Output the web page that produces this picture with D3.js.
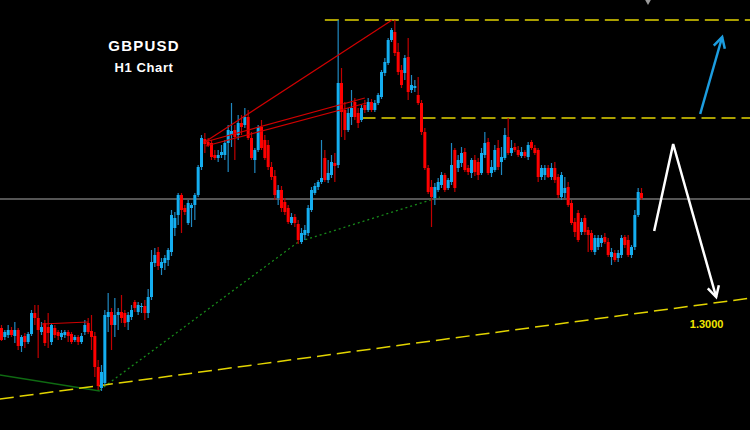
<!DOCTYPE html>
<html><head><meta charset="utf-8">
<script src="https://cdn.jsdelivr.net/npm/d3@7"></script>
<style>html,body{margin:0;padding:0;background:#000;}svg{display:block;}</style>
</head><body>
<svg id="chart" width="750" height="430"></svg>
<script>
// ---- Data (GBPUSD H1, prices) ----
const open = [1.2972,1.2963,1.2965,1.2970,1.2964,1.2970,1.2954,1.2964,1.2958,1.2966,
1.2987,1.2982,1.2968,1.2977,1.2973,1.2958,1.2972,1.2968,1.2963,1.2965,
1.2968,1.2966,1.2960,1.2963,1.2958,1.2968,1.2977,1.2969,1.2964,1.2933,
1.2912,1.2917,1.2983,1.2988,1.2975,1.2985,1.2988,1.2987,1.2978,1.2983,
1.2998,1.2988,1.2993,1.2994,1.2987,1.3003,1.3037,1.3048,1.3032,1.3037,
1.3040,1.3048,1.3072,1.3085,1.3105,1.3092,1.3077,1.3092,1.3095,1.3105,
1.3133,1.3161,1.3158,1.3157,1.3145,1.3142,1.3145,1.3145,1.3157,1.3165,
1.3170,1.3165,1.3177,1.3175,1.3183,1.3162,1.3140,1.3150,1.3173,1.3160,
1.3155,1.3133,1.3124,1.3102,1.3110,1.3098,1.3092,1.3077,1.3083,1.3076,
1.3058,1.3065,1.3067,1.3090,1.3107,1.3113,1.3118,1.3142,1.3120,1.3125,
1.3137,1.3135,1.3217,1.3190,1.3170,1.3183,1.3198,1.3187,1.3180,1.3195,
1.3190,1.3198,1.3190,1.3197,1.3203,1.3227,1.3237,1.3260,1.3268,1.3248,
1.3230,1.3227,1.3243,1.3210,1.3212,1.3205,1.3197,1.3168,1.3132,1.3113,
1.3102,1.3110,1.3115,1.3125,1.3112,1.3118,1.3150,1.3132,1.3137,1.3148,
1.3132,1.3127,1.3140,1.3138,1.3127,1.3145,1.3158,1.3127,1.3130,1.3152,
1.3138,1.3142,1.3163,1.3147,1.3153,1.3150,1.3144,1.3148,1.3143,1.3158,
1.3152,1.3150,1.3123,1.3125,1.3132,1.3123,1.3132,1.3123,1.3103,1.3107,
1.3113,1.3097,1.3078,1.3087,1.3068,1.3082,1.3070,1.3067,1.3048,1.3053,
1.3057,1.3063,1.3058,1.3043,1.3047,1.3042,1.3045,1.3063,1.3060,1.3045,
1.3053,1.3085,1.3107];
const high = [1.2975,1.2970,1.2975,1.2973,1.2978,1.2972,1.2965,1.2967,1.2968,1.2990,
1.2995,1.2995,1.2978,1.2980,1.2987,1.2977,1.2975,1.2970,1.2970,1.2970,
1.2970,1.2968,1.2965,1.2965,1.2967,1.2980,1.2982,1.2985,1.2968,1.2940,
1.2935,1.2990,1.3007,1.2992,1.3002,1.2992,1.3005,1.2990,1.2988,1.2995,
1.3000,1.2998,1.2997,1.3000,1.3011,1.3050,1.3052,1.3053,1.3042,1.3045,
1.3052,1.3090,1.3088,1.3107,1.3107,1.3095,1.3100,1.3097,1.3107,1.3135,
1.3165,1.3167,1.3162,1.3160,1.3150,1.3150,1.3155,1.3160,1.3175,1.3197,
1.3175,1.3185,1.3185,1.3192,1.3190,1.3168,1.3152,1.3175,1.3180,1.3165,
1.3160,1.3138,1.3130,1.3115,1.3114,1.3102,1.3095,1.3087,1.3086,1.3080,
1.3072,1.3075,1.3095,1.3113,1.3117,1.3120,1.3160,1.3150,1.3140,1.3145,
1.3147,1.3280,1.3232,1.3198,1.3192,1.3210,1.3202,1.3192,1.3195,1.3200,
1.3202,1.3201,1.3200,1.3207,1.3230,1.3242,1.3262,1.3272,1.3280,1.3257,
1.3235,1.3245,1.3262,1.3225,1.3220,1.3223,1.3200,1.3172,1.3135,1.3120,
1.3117,1.3122,1.3128,1.3127,1.3122,1.3157,1.3152,1.3145,1.3153,1.3152,
1.3135,1.3142,1.3145,1.3142,1.3152,1.3168,1.3162,1.3140,1.3155,1.3160,
1.3153,1.3172,1.3182,1.3160,1.3157,1.3154,1.3153,1.3150,1.3158,1.3160,
1.3155,1.3152,1.3135,1.3135,1.3135,1.3137,1.3138,1.3126,1.3128,1.3123,
1.3118,1.3100,1.3082,1.3090,1.3082,1.3085,1.3073,1.3070,1.3065,1.3065,
1.3065,1.3067,1.3062,1.3052,1.3050,1.3050,1.3065,1.3065,1.3065,1.3055,
1.3090,1.3112,1.3112];
const low = [1.2959,1.2960,1.2962,1.2963,1.2957,1.2950,1.2948,1.2952,1.2956,1.2964,
1.2975,1.2942,1.2965,1.2954,1.2952,1.2955,1.2962,1.2960,1.2960,1.2962,
1.2958,1.2956,1.2958,1.2955,1.2956,1.2965,1.2966,1.2950,1.2923,1.2910,
1.2909,1.2915,1.2968,1.2950,1.2963,1.2970,1.2977,1.2973,1.2970,1.2980,
1.2988,1.2985,1.2987,1.2980,1.2982,1.3000,1.3033,1.3030,1.3025,1.3030,
1.3034,1.3044,1.3064,1.3075,1.3067,1.3085,1.3075,1.3073,1.3080,1.3103,
1.3130,1.3147,1.3153,1.3140,1.3140,1.3138,1.3142,1.3140,1.3128,1.3153,
1.3140,1.3160,1.3165,1.3172,1.3160,1.3140,1.3127,1.3148,1.3150,1.3140,
1.3130,1.3120,1.3100,1.3095,1.3088,1.3085,1.3076,1.3075,1.3073,1.3056,
1.3056,1.3060,1.3064,1.3088,1.3105,1.3110,1.3116,1.3118,1.3117,1.3122,
1.3118,1.3132,1.3163,1.3160,1.3168,1.3175,1.3180,1.3172,1.3178,1.3187,
1.3188,1.3188,1.3188,1.3195,1.3201,1.3224,1.3235,1.3258,1.3244,1.3225,
1.3212,1.3220,1.3200,1.3207,1.3208,1.3195,1.3165,1.3130,1.3106,1.3073,
1.3095,1.3108,1.3112,1.3108,1.3110,1.3115,1.3108,1.3128,1.3133,1.3128,
1.3125,1.3122,1.3124,1.3120,1.3125,1.3142,1.3125,1.3123,1.3128,1.3130,
1.3125,1.3140,1.3145,1.3144,1.3148,1.3143,1.3142,1.3142,1.3140,1.3150,
1.3145,1.3118,1.3120,1.3120,1.3122,1.3120,1.3117,1.3102,1.3100,1.3102,
1.3093,1.3075,1.3063,1.3058,1.3065,1.3065,1.3048,1.3048,1.3045,1.3050,
1.3053,1.3056,1.3043,1.3035,1.3038,1.3038,1.3042,1.3052,1.3043,1.3042,
1.3050,1.3083,1.3100];
const close = [1.2960,1.2968,1.2970,1.2965,1.2970,1.2954,1.2963,1.2958,1.2966,1.2987,
1.2982,1.2970,1.2973,1.2957,1.2967,1.2975,1.2965,1.2964,1.2967,1.2968,
1.2964,1.2958,1.2963,1.2958,1.2964,1.2975,1.2968,1.2963,1.2933,1.2914,
1.2928,1.2985,1.2988,1.2975,1.2985,1.2988,1.2982,1.2977,1.2985,1.2990,
1.2992,1.2995,1.2994,1.2987,1.3003,1.3038,1.3045,1.3034,1.3038,1.3042,
1.3050,1.3085,1.3082,1.3105,1.3090,1.3088,1.3097,1.3095,1.3105,1.3133,
1.3162,1.3156,1.3155,1.3143,1.3142,1.3145,1.3148,1.3157,1.3170,1.3169,
1.3163,1.3177,1.3173,1.3183,1.3162,1.3142,1.3150,1.3173,1.3152,1.3142,
1.3133,1.3123,1.3105,1.3110,1.3092,1.3088,1.3078,1.3083,1.3077,1.3060,
1.3067,1.3070,1.3092,1.3110,1.3114,1.3118,1.3122,1.3120,1.3127,1.3138,
1.3134,1.3217,1.3188,1.3170,1.3187,1.3192,1.3183,1.3177,1.3192,1.3190,
1.3198,1.3190,1.3197,1.3205,1.3228,1.3238,1.3260,1.3270,1.3247,1.3228,
1.3215,1.3242,1.3208,1.3215,1.3214,1.3197,1.3168,1.3132,1.3108,1.3103,
1.3113,1.3118,1.3125,1.3110,1.3120,1.3135,1.3112,1.3140,1.3147,1.3130,
1.3128,1.3140,1.3128,1.3125,1.3147,1.3157,1.3127,1.3133,1.3150,1.3133,
1.3143,1.3165,1.3147,1.3152,1.3150,1.3145,1.3148,1.3144,1.3155,1.3152,
1.3147,1.3123,1.3132,1.3132,1.3123,1.3132,1.3120,1.3105,1.3125,1.3112,
1.3095,1.3077,1.3068,1.3060,1.3078,1.3068,1.3065,1.3050,1.3062,1.3062,
1.3062,1.3058,1.3045,1.3048,1.3040,1.3047,1.3062,1.3055,1.3045,1.3053,
1.3085,1.3108,1.3102];

// Annotation levels & drawings: [bar index, price]
const resistanceTop = {from: 97, price: 1.3280};
const resistanceMid = {from: 108, price: 1.3182};
const pivotLine = 1.3101;
const supportTrend = [[-0.5, 1.2901], [225, 1.3002]];
const supportLabel = {text: "1.3000", at: [206.5, 1.2972]};
const greenSolid = [[-0.5, 1.2925], [29.5, 1.2909]];
const greenDotted = [[29.5, 1.2910], [89, 1.3058], [131.5, 1.3103]];
const redLines = [
  [[61, 1.3158], [117.2, 1.3280]],
  [[61, 1.3158], [109, 1.3202]],
  [[61.3, 1.3154], [109.5, 1.3197]],
  [[12, 1.2976], [26, 1.2978]]
];
const blueArrow = [[209.6, 1.3186], [216.2, 1.3263]];
const whiteArrow = [[195.8, 1.3069], [201.5, 1.3156], [214.4, 1.3003]];
const titleLines = ["GBPUSD", "H1 Chart"];

// ---- Scales ----
const W = 750, H = 430;
const svg = d3.select("#chart");
svg.append("rect").attr("width", W).attr("height", H).attr("fill", "#000");

const x = d3.scaleLinear().domain([0, open.length - 1]).range([1.5, 641.5]);
const y = d3.scaleLinear().domain([1.2870, 1.3300]).range([H, 0]);

const line = d3.line().x(d => x(d[0])).y(d => y(d[1]));

// pivot grey line
svg.append("line").attr("x1", 0).attr("x2", W)
  .attr("y1", y(pivotLine)).attr("y2", y(pivotLine))
  .attr("stroke", "#555555").attr("stroke-width", 2);

// green lines
svg.append("path").attr("d", line(greenSolid)).attr("fill", "none")
  .attr("stroke", "#0f6a12").attr("stroke-width", 1.3);
svg.append("path").attr("d", line(greenDotted)).attr("fill", "none")
  .attr("stroke", "#178a1a").attr("stroke-width", 1.3).attr("stroke-dasharray", "2,3");

// yellow dashed
const yellow = "#e2d400";
[resistanceTop, resistanceMid].forEach(r => {
  svg.append("line").attr("x1", x(r.from)).attr("x2", W)
    .attr("y1", y(r.price)).attr("y2", y(r.price))
    .attr("stroke", yellow).attr("stroke-width", 1.5).attr("stroke-dasharray", "14,6");
});
svg.append("path").attr("d", line(supportTrend)).attr("fill", "none")
  .attr("stroke", yellow).attr("stroke-width", 1.5).attr("stroke-dasharray", "14,6");

// candles
const idx = d3.range(open.length);
const g = svg.append("g");
const bw = 3;
g.selectAll("line.wick").data(idx).join("line").attr("class", "wick")
  .attr("x1", i => x(i)).attr("x2", i => x(i))
  .attr("y1", i => y(high[i])).attr("y2", i => y(low[i]))
  .attr("stroke", i => close[i] >= open[i] ? "#2088c0" : "#c00000")
  .attr("stroke-width", 1.2);
g.selectAll("rect.body").data(idx).join("rect").attr("class", "body")
  .attr("x", i => x(i) - bw / 2).attr("width", bw)
  .attr("y", i => y(Math.max(open[i], close[i])))
  .attr("height", i => Math.max(1, Math.abs(y(open[i]) - y(close[i]))))
  .attr("fill", i => close[i] >= open[i] ? "#14aef0" : "#ff0000");

// red trend lines
redLines.forEach(l => {
  svg.append("path").attr("d", line(l)).attr("fill", "none")
    .attr("stroke", "#d00000").attr("stroke-width", 1.2);
});

// arrows
function arrow(pts, color, w) {
  svg.append("path").attr("d", line(pts)).attr("fill", "none")
    .attr("stroke", color).attr("stroke-width", w).attr("stroke-linejoin", "miter");
  const a = pts[pts.length - 2], b = pts[pts.length - 1];
  const ax = x(a[0]), ay = y(a[1]), bx = x(b[0]), by = y(b[1]);
  const ang = Math.atan2(by - ay, bx - ax);
  const L = 12, sp = 0.5;
  const p1 = [bx - L * Math.cos(ang - sp), by - L * Math.sin(ang - sp)];
  const p2 = [bx - L * Math.cos(ang + sp), by - L * Math.sin(ang + sp)];
  svg.append("path").attr("d", `M${p1[0]},${p1[1]}L${bx},${by}L${p2[0]},${p2[1]}`)
    .attr("fill", "none").attr("stroke", color).attr("stroke-width", w)
    .attr("stroke-linejoin", "miter");
}
arrow(blueArrow, "#1c9de0", 2.5);
arrow(whiteArrow, "#ffffff", 2.5);

// small grey marker at top
svg.append("path").attr("d", d3.symbol(d3.symbolDiamond, 40)())
  .attr("transform", `translate(648,-1)`).attr("fill", "#9a9a9a");

// support label
svg.append("text").attr("x", x(supportLabel.at[0])).attr("y", y(supportLabel.at[1]))
  .attr("fill", "#f2e600").attr("font-family", "Liberation Sans, Arial, sans-serif")
  .attr("font-weight", "bold").attr("font-size", 11).text(supportLabel.text);

// title
svg.append("text").attr("x", 144).attr("y", 51).attr("text-anchor", "middle")
  .attr("fill", "#fff").attr("font-family", "Liberation Sans, Arial, sans-serif")
  .attr("font-weight", "bold").attr("font-size", 15).attr("letter-spacing", 1.2)
  .text(titleLines[0]);
svg.append("text").attr("x", 144).attr("y", 72).attr("text-anchor", "middle")
  .attr("fill", "#fff").attr("font-family", "Liberation Sans, Arial, sans-serif")
  .attr("font-weight", "bold").attr("font-size", 13).attr("letter-spacing", 0.6)
  .text(titleLines[1]);
</script>
</body></html>
